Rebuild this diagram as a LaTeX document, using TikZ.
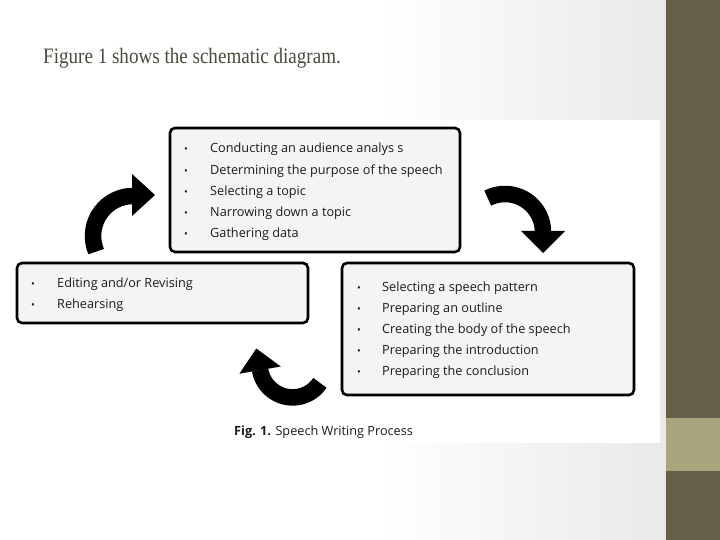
\documentclass[tikz,border=0pt]{standalone}
\usepackage{fontspec}
\setmainfont{Open Sans}
\newfontfamily\titlefont{Liberation Serif}
\definecolor{bar}{HTML}{665E48}
\definecolor{barlight}{HTML}{A9A57F}
\definecolor{bggray}{HTML}{E9E9E9}
\definecolor{titlecol}{HTML}{4D493C}
\definecolor{boxfill}{HTML}{F4F4F4}
\definecolor{txt}{HTML}{1C1C1C}
\tikzset{
  box/.style={draw=black, line width=2.6pt, rounded corners=5pt, fill=boxfill, inner sep=0pt},
  item/.style={anchor=mid west, inner sep=0pt, text=txt, font=\fontsize{12.7}{15}\selectfont},
  bul/.style={anchor=mid, inner sep=0pt, text=txt, font=\fontsize{10}{12}\selectfont},
  body/.style={line width=16.5pt, black},
  head/.style={fill=black},
}
\begin{document}
\begin{tikzpicture}[x=1pt,y=1pt]
\useasboundingbox (0,0) rectangle (720,-540);
% background
\fill[white] (0,0) rectangle (380,-540);
\shade[left color=white,right color=bggray] (380,0) rectangle (666,-540);
\fill[bar] (666,0) rectangle (720,-540);
\fill[barlight] (666,-418) rectangle (720,-471);
\fill[white] (150,-120) rectangle (660,-443);
% title
\node[anchor=base west, inner sep=0pt, text=titlecol, font=\titlefont\fontsize{22}{26}\selectfont] (title) at (43,-64) {\scalebox{0.867}[1]{Figure 1 shows the schematic diagram.}};
% boxes
\draw[box] (170,-128) rectangle (460,-252);
\draw[box] (17,-263) rectangle (308,-323);
\draw[box] (342,-263) rectangle (634,-395);
% top box text
\foreach \y/\t [count=\i] in {149.5/{Conducting an audience analys s}, 171.5/{Determining the purpose of the speech}, 192.5/{Selecting a topic}, 213.5/{Narrowing down a topic}, 234.5/{Gathering data}}{
  \node[bul] (tb\i) at (186,-\y) {•};
  \node[item] (tt\i) at (210,-\y) {\t};
}
% left box text
\foreach \y/\t [count=\i] in {284.5/{Editing and/or Revising}, 305.5/{Rehearsing}}{
  \node[bul] (lb\i) at (33,-\y) {•};
  \node[item] (lt\i) at (57,-\y) {\t};
}
% right box text
\foreach \y/\t [count=\i] in {288.5/{Selecting a speech pattern}, 309.5/{Preparing an outline}, 330.5/{Creating the body of the speech}, 351.5/{Preparing the introduction}, 372.5/{Preparing the conclusion}}{
  \node[bul] (rb\i) at (359,-\y) {•};
  \node[item] (rt\i) at (382,-\y) {\t};
}
% caption
\node[item] (cap) at (234,-433) {\textbf{Fig. 1.} Speech Writing Process};
% arrow 1 (left, up and right)
\draw[body] (133,-236) ++(203:40) arc[start angle=203, end angle=90, radius=40];
\fill[head] (132,-174) -- (155,-195) -- (132,-216) -- cycle;
% arrow 2 (top right, right and down)
\draw[body] (505,-232) ++(117:38) arc[start angle=117, end angle=0, radius=38];
\fill[head] (521,-231) -- (565,-231) -- (543,-253) -- cycle;
% arrow 3 (bottom, left and up)
\draw[body] (292.6,-364.4) ++(-34:33) arc[start angle=-34, end angle=-170.5, radius=33];
\fill[head] (239.4,-373.7) -- (256.3,-348.5) -- (280.8,-366.5) -- cycle;
\end{tikzpicture}
\end{document}
